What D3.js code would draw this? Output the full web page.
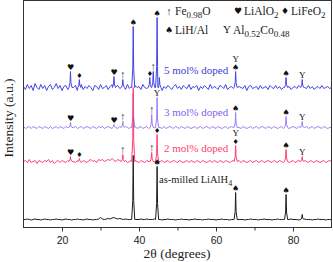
<!DOCTYPE html>
<html>
<head>
<meta charset="utf-8">
<script src="https://cdn.jsdelivr.net/npm/d3@7"></script>
<style>
  body { margin: 0; background: #fff; }
  svg { display: block; }
</style>
</head>
<body>
<div id="chart"></div>
<script>
// XRD patterns, intensity in plot pixels above each baseline
const noiseStart = 10, noiseStep = 0.5;

const blueNoise = [
  1,-2,3,-1,2,-3,4,0,-2,3,
  -1,2,-3,1,3,-2,0,4,-1,2,
  -3,1,2,-2,3,-1,0,2,-3,1,
  3,-2,1,-1,2,0,-3,2,1,-2,
  3,-1,0,2,-2,1,3,-3,1,2,
  -1,0,2,-2,3,-1,1,-3,2,0,
  1,-2,3,0,-1,2,-2,1,3,-1,
  0,2,-3,1,-1,2,0,-2,1,3,
  -1,1,-2,2,0,-1,3,-2,1,0,
  2,-3,1,-1,2,0,-2,3,-1,1,
  0,-2,2,1,-1,3,-2,0,1,-1,
  2,-2,1,0,-1,2,-3,1,2,-1,
  0,1,-2,2,-1,0,1,-2,2,0,
  -1,2,-1,1,-2,0,2,-1,1,-2,
  0,1,-1,2,-2,1,0,-1,2,-1,
  1,-2,0,1,-1,2,-1,0,1,-1,
  0];

const purpleNoise = [
  1,-1,0,1,-1,1,0,-1,1,0,
  -1,1,0,-1,1,-1,0,1,-1,1,
  0,-1,1,0,1,-1,0,1,-1,0,
  1,-1,0,1,0,-1,1,0,-1,1,
  0,1,-1,0,1,0,-1,1,0,-1,
  1,0,-1,1,0,-1,1,0,1,-1,
  0,1,-1,0,1,-1,0,1,0,-1,
  1,0,-1,1,-1,0,1,0,-1,1,
  0,-1,1,0,-1,1,0,-1,0,1,
  -1,0,1,-1,0,1,0,-1,1,0,
  -1,1,0,-1,0,1,-1,0,1,0,
  -1,1,0,-1,1,0,-1,0,1,-1,
  0,1,-1,0,1,0,-1,1,0,-1,
  1,0,-1,0,1,-1,0,1,-1,0,
  1,0,-1,1,0,-1,0,1,-1,0,
  1,-1,0,1,0,-1,1,0,-1,0,
  0];

const redNoise = [
  0,1,-1,2,-1,0,1,-2,1,0,
  -1,1,0,2,-1,1,-2,0,1,-1,
  1,0,-1,1,-2,1,0,-1,1,0,
  -1,1,0,-1,1,2,0,1,-1,2,
  1,2,0,1,2,1,3,1,0,2,
  1,-1,0,1,-1,0,1,-1,1,0,
  -1,1,0,-1,1,0,-1,1,0,1,
  -1,0,1,-1,0,1,-1,0,1,0,
  -1,1,0,-1,0,1,-1,1,0,-1,
  1,0,-1,1,0,-1,0,1,-1,1,
  0,-1,1,0,-1,1,0,-1,0,1,
  -1,0,1,-1,1,0,-1,0,1,-1,
  0,1,-1,0,1,-1,0,1,0,-1,
  1,0,-1,1,0,-1,1,0,-1,0,
  1,-1,0,1,-1,0,1,0,-1,1,
  0,-1,1,0,-1,0,1,-1,0,1,
  0];

const blackNoise = [
  0,0,0.5,0,-0.5,0,0.5,0,0,-0.5,
  0,0.5,0,0,-0.5,0,0,0.5,0,0,
  -0.5,0,0.5,0,0,-0.5,0,0,0.5,0,
  0,-0.5,0,0.5,0,0,-0.5,0,0,0.5,
  2,0.5,0,0.5,1,0.5,1.5,2,1,0.5,
  1,0.5,0,0.5,0,0,0,0,0,0,
  0,0.5,0,0,0.5,0,0,0,0.5,0,
  0,0,-0.5,0,0,0.5,0,0,0,-0.5,
  0,0,0.5,0,0,0,-0.5,0,0,0.5,
  0,0,0,-0.5,0,0,0.5,0,0,0,
  -0.5,0,0,0.5,0,0,0,-0.5,0,0,
  0,0.5,0,0,0,-0.5,0,0,0.5,0,
  0,0,-0.5,0,0,0.5,0,0,0,-0.5,
  0,0,0.5,0,0,0,-0.5,0,0,0.5,
  0,0,0,-0.5,0,0,0.5,0,0,0,
  -0.5,0,0,0.5,0,0,0,-0.5,0,0,
  0];

// [2theta, peak height]
const blackPeaks  = [[38.5,64],[44.7,53],[65.1,27],[78.2,25],[82.4,5]];
const redPeaks    = [[22.2,5],[24.5,3],[35.8,7],[38.5,74],[43.3,9],[44.7,27],[65.1,16],[78.2,12],[82.4,5]];
const purplePeaks = [[22.2,5],[33.5,3],[35.8,6],[38.5,34],[43.3,13],[44.7,30],[65.1,15],[78.2,11],[82.4,6]];
const bluePeaks   = [[22.2,16],[24.5,8],[33.5,11],[35.8,8],[38.5,61],[42.8,10],[43.7,16],[44.7,70],[45.3,10],[65.1,16],[78.2,10],[82.4,8]];

// phase markers above peaks, stacked bottom to top
const blackMarks  = [[44.7,["♠"]],[65.1,["♠"]],[78.2,["♠"]]];
const redMarks    = [[22.2,["♥"]],[24.5,["♦"]],[35.8,["↑"]],[43.3,["↑"]],[44.7,["♦"]],[65.1,["♦","Υ"]],[78.2,["♠"]],[82.4,["Υ"]]];
const purpleMarks = [[22.2,["♥"]],[33.5,["♥"]],[35.8,["↑"]],[43.3,["↑"]],[44.7,["Υ"]],[65.1,["♠"]],[78.2,["♠"]],[82.4,["Υ"]]];
const blueMarks   = [[22.2,["♥"]],[24.5,["♦"]],[33.5,["♥"]],[35.8,["↑"]],[38.5,["♠"]],[42.8,["♦"]],[43.7,["↑"]],[44.7,["♠"]],[65.1,["♠","Υ"]],[78.2,["♠"]],[82.4,["Υ"]]];

const seriesNames = ["as-milled LiAlH", "2 mol% doped", "3 mol% doped", "5 mol% doped"];
const baselines = [8, 66, 100, 140];

const legendSymbols = ["↑", "♥", "♦", "♠", "Υ"];
const legendLabels = [
  [["Fe",0],["0.98",1],["O",0]],
  [["LiAlO",0],["2",1]],
  [["LiFeO",0],["2",1]],
  [["LiH/Al",0]],
  [["Al",0],["0.52",1],["Co",0],["0.48",1]]
];

const xTicks = [20, 40, 60, 80];
const xMinor = [30, 50, 70];

// ---- drawing ----
const width = 333, height = 262;
const colors = ["#1c1c1c", "#ff3d6e", "#9b7ef2", "#4343e6"];
const labelColors = ["#1c1c1c", "#ff3d6e", "#8460ee", "#3d3dd6"];
const noises = [blackNoise, redNoise, purpleNoise, blueNoise];
const peaks = [blackPeaks, redPeaks, purplePeaks, bluePeaks];
const marks = [blackMarks, redMarks, purpleMarks, blueMarks];

const x = d3.scaleLinear().domain([10, 90]).range([23.5, 331.5]);
const y = d3.scaleLinear().domain([0, 227]).range([227.5, 0.5]);

const svg = d3.select("#chart").append("svg")
  .attr("width", width).attr("height", height);

function buildPattern(noise, pk) {
  const pts = [];
  noise.forEach((v, i) => {
    const t = noiseStart + i * noiseStep;
    if (pk.every(p => Math.abs(p[0] - t) > 0.45)) pts.push([t, v]);
  });
  pk.forEach(([c, h]) => {
    pts.push([c - 0.4, 0], [c - 0.12, h * 0.3], [c, h], [c + 0.12, h * 0.3], [c + 0.4, 0]);
  });
  return pts.sort((a, b) => a[0] - b[0]);
}

const line = d3.line();
const order = [0, 2, 1, 3];
order.forEach(k => {
  const pts = buildPattern(noises[k], peaks[k]);
  svg.append("path")
    .attr("fill", "none")
    .attr("stroke", colors[k])
    .attr("stroke-width", 1)
    .attr("stroke-linejoin", "round")
    .attr("d", line(pts.map(([t, v]) => [x(t), y(baselines[k] + v)])));
});

// markers
const symFont = s => (s === "↑" || s === "Υ") ? "'Liberation Serif', 'DejaVu Serif', serif" : "'DejaVu Sans', sans-serif";
const symSize = s => s === "↑" ? 11 : s === "Υ" ? 9 : s === "♦" ? 7 : 8;
const symFill = s => s === "↑" ? "#3a3a3a" : "#111";
marks.forEach((ml, k) => {
  ml.forEach(([t, syms]) => {
    const p = peaks[k].find(q => q[0] === t);
    let top = y(baselines[k] + p[1]) - 1.5;
    syms.forEach(s => {
      svg.append("text")
        .attr("x", x(t)).attr("y", top)
        .attr("text-anchor", "middle")
        .attr("font-family", symFont(s))
        .attr("font-size", symSize(s))
        .attr("fill", symFill(s))
        .text(s);
      top -= 8;
    });
  });
});

// series labels
const labelY = [182.5, 152, 116, 74];
seriesNames.forEach((n, k) => {
  const t = svg.append("text")
    .attr("x", k === 0 ? 159 : 164).attr("y", labelY[k])
    .attr("font-family", "'Liberation Serif', serif")
    .attr("font-size", k === 0 ? 10.5 : 11)
    .attr("fill", labelColors[k])
    .text(n);
  if (k === 0) t.append("tspan").attr("dy", 3).attr("font-size", 8).text("4");
});

// frame
svg.append("rect")
  .attr("x", 23.5).attr("y", 0.5)
  .attr("width", 308).attr("height", 227)
  .attr("fill", "none").attr("stroke", "#333").attr("stroke-width", 1);

const axisMajor = d3.axisBottom(x).tickValues(xTicks).tickSize(4).tickSizeOuter(0);
const axisMinor = d3.axisBottom(x).tickValues(xMinor).tickSize(3).tickFormat("");
[axisMajor, axisMinor].forEach(a => {
  const g = svg.append("g").attr("transform", "translate(0,227.5)").call(a);
  g.select(".domain").remove();
  g.selectAll(".tick line").attr("stroke", "#333");
  g.selectAll("text")
    .attr("font-family", "'Liberation Sans', Arial, sans-serif")
    .attr("font-size", 10.5).attr("fill", "#222").attr("dy", "0.95em");
});

svg.append("text")
  .attr("x", 177).attr("y", 258)
  .attr("text-anchor", "middle")
  .attr("font-family", "'Liberation Serif', serif")
  .attr("font-size", 13.5).attr("fill", "#222")
  .text("2θ (degrees)");

svg.append("text")
  .attr("transform", "translate(13,118) rotate(-90)")
  .attr("text-anchor", "middle")
  .attr("font-family", "'Liberation Serif', serif")
  .attr("font-size", 13.5).attr("fill", "#222")
  .text("Intensity (a.u.)");

// legend
const legendPos = [[167, 15], [236, 15], [283, 15], [167, 34], [225, 34]];
legendSymbols.forEach((s, i) => {
  const [lx, ly] = legendPos[i];
  svg.append("text")
    .attr("x", lx + 2).attr("y", ly - (s === "↑" ? 0 : 1))
    .attr("text-anchor", "middle")
    .attr("font-family", symFont(s))
    .attr("font-size", s === "↑" || s === "Υ" ? 11 : 9)
    .attr("fill", symFill(s))
    .text(s);
  const t = svg.append("text")
    .attr("x", lx + 8).attr("y", ly)
    .attr("font-family", "'Liberation Serif', serif")
    .attr("font-size", 11.5).attr("fill", "#222");
  let shifted = false;
  legendLabels[i].forEach(([txt, sub]) => {
    const sp = t.append("tspan").text(txt);
    if (sub && !shifted) { sp.attr("dy", 3).attr("font-size", 9); shifted = true; }
    else if (!sub && shifted) { sp.attr("dy", -3); shifted = false; }
    else if (sub) sp.attr("font-size", 9);
  });
});
</script>
</body>
</html>
